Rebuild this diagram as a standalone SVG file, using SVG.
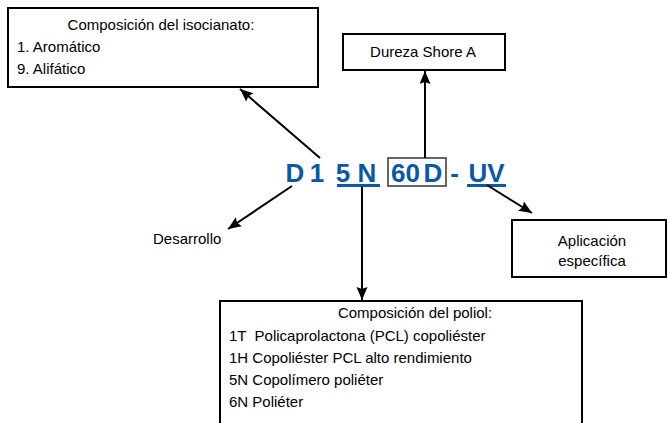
<svg xmlns="http://www.w3.org/2000/svg" width="668" height="423" viewBox="0 0 668 423">
<style>
.box{fill:#fff;stroke:#000;stroke-width:2}
.t{font-family:"Liberation Sans",Arial,sans-serif;font-size:15px;fill:#000;white-space:pre}
.c{text-anchor:middle}
.code{font-family:"Liberation Sans",Arial,sans-serif;font-size:26px;font-weight:bold;fill:#0a58a8;text-anchor:middle}
.ln{stroke:#000;stroke-width:2;fill:none;marker-end:url(#ah)}
</style>
<defs>
<marker id="ah" markerUnits="userSpaceOnUse" markerWidth="14" markerHeight="12" refX="13" refY="5.5" orient="auto" viewBox="0 0 14 12">
<path d="M0,0 L13,5.5 L0,11 L2,5.5 z" fill="#000"/>
</marker>
</defs>
<rect width="668" height="423" fill="#fff"/>
<g id="isocianato">
<rect class="box" x="8" y="8" width="310" height="79"/>
<text class="t c" x="161" y="30">Composición del isocianato:</text>
<text class="t" x="17" y="52">1. Aromático</text>
<text class="t" x="17" y="74">9. Alifático</text>
</g>
<g id="dureza">
<rect class="box" x="343" y="34" width="162" height="36"/>
<text class="t c" x="423" y="57">Dureza Shore A</text>
</g>
<g id="codigo">
<text class="code" x="295" y="182">D</text>
<text class="code" x="317" y="182">1</text>
<text class="code" x="343" y="182">5</text>
<text class="code" x="367" y="182">N</text>
<rect x="337" y="184" width="43" height="3" fill="#0a58a8"/>
<rect x="388" y="158" width="58" height="28" fill="none" stroke="#333" stroke-width="1.5"/>
<text class="code" x="405.5" y="182">60</text>
<text class="code" x="433" y="182">D</text>
<text class="code" x="454.5" y="182">-</text>
<text class="code" x="486.5" y="182">UV</text>
<rect x="467" y="184" width="39" height="3" fill="#0a58a8"/>
</g>
<g id="desarrollo">
<text class="t" x="153" y="244">Desarrollo</text>
</g>
<g id="aplicacion">
<rect class="box" x="512" y="220" width="154" height="57"/>
<text class="t c" x="592" y="246">Aplicación</text>
<text class="t c" x="592" y="266">específica</text>
</g>
<g id="poliol">
<rect class="box" x="220" y="301" width="362" height="140"/>
<text class="t c" x="415" y="318">Composición del poliol:</text>
<text class="t" x="229" y="341" xml:space="preserve">1T  Policaprolactona (PCL) copoliéster</text>
<text class="t" x="229" y="363">1H Copoliéster PCL alto rendimiento</text>
<text class="t" x="229" y="385">5N Copolímero poliéter</text>
<text class="t" x="229" y="407">6N Poliéter</text>
</g>
<g id="connectors">
<line class="ln" x1="320" y1="158" x2="240" y2="89"/>
<line class="ln" x1="292" y1="186" x2="228" y2="229"/>
<line class="ln" x1="425" y1="158" x2="425" y2="71"/>
<line class="ln" x1="362" y1="187" x2="362" y2="300"/>
<line class="ln" x1="487" y1="185" x2="532" y2="213"/>
</g>
</svg>
